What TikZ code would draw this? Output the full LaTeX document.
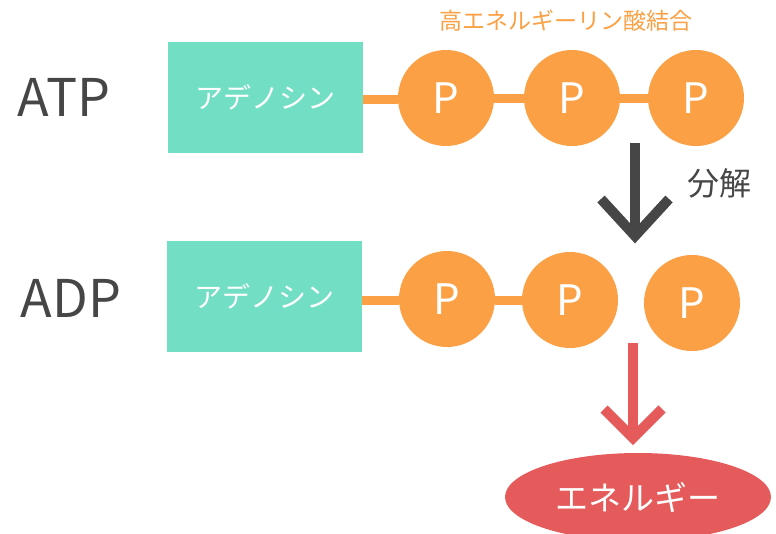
\documentclass[tikz,border=0pt]{standalone}
\usepackage{fontspec}
\setmainfont{Noto Sans CJK JP}
\usetikzlibrary{shapes.geometric}
\definecolor{teal}{HTML}{72DEC3}
\definecolor{orng}{HTML}{FBA044}
\definecolor{redc}{HTML}{E55A5A}
\definecolor{dark}{HTML}{464646}
\tikzset{
  adbox/.style={fill=teal, draw=none, minimum width=195pt, minimum height=111pt, inner sep=0pt, text=white, font=\fontsize{28}{28}\selectfont},
  pball/.style={circle, fill=orng, draw=none, minimum size=96pt, inner sep=0pt, text=white, font=\fontsize{42}{42}\selectfont},
  bond/.style={orng, line width=9pt},
  biglabel/.style={text=dark, font=\fontsize{52}{52}\selectfont, inner sep=0pt},
}
\begin{document}
\begin{tikzpicture}[x=1pt,y=-1pt]
\useasboundingbox (0,0) rectangle (776,533);
% labels
\node[biglabel] (atp) at (64,97) {ATP};
\node[biglabel] (adp) at (71,298) {ADP};
% ATP row
\node[adbox] (box1) at (265.5,97.5) {アデノシン};
\node[pball] (p1) at (446,98) {P};
\node[pball] (p2) at (572,98) {P};
\node[pball] (p3) at (696,98) {P};
\draw[bond] (box1.east |- 0,99) -- (p1.west |- 0,99);
\draw[bond] (p1) -- (p2);
\draw[bond] (p2) -- (p3);
\node[text=orng, font=\fontsize{23}{23}\selectfont, inner sep=0pt] (hl) at (566,21) {高エネルギーリン酸結合};
% ADP row
\node[adbox] (box2) at (264.5,296.5) {アデノシン};
\node[pball] (q1) at (447,299) {P};
\node[pball] (q2) at (570,300) {P};
\node[pball] (q3) at (692,303) {P};
\draw[bond] (box2.east |- 0,300) -- (q1.west |- 0,300);
\draw[bond] (q1.east |- 0,300) -- (q2.west |- 0,300);
% decomposition arrow
\coordinate (a1s) at (635,143);
\coordinate (a1e) at (635,237);
\draw[dark, line width=10pt] (a1s) -- (a1e);
\draw[dark, line width=10pt, line join=miter] (601,199) -- (635,236) -- (669,199);
\node[text=dark, font=\fontsize{32}{32}\selectfont, inner sep=0pt] (bunkai) at (719,183) {分解};
% energy arrow
\coordinate (a2s) at (633,343);
\coordinate (a2e) at (633,436);
\draw[redc, line width=10pt] (a2s) -- (a2e);
\draw[redc, line width=10pt, line join=miter] (604,409) -- (633,438) -- (662,409);
\node[ellipse, fill=redc, draw=none, minimum width=266pt, minimum height=88pt, inner sep=0pt, text=white, font=\fontsize{33}{33}\selectfont] (energy) at (638,497) {エネルギー};
\end{tikzpicture}
\end{document}
